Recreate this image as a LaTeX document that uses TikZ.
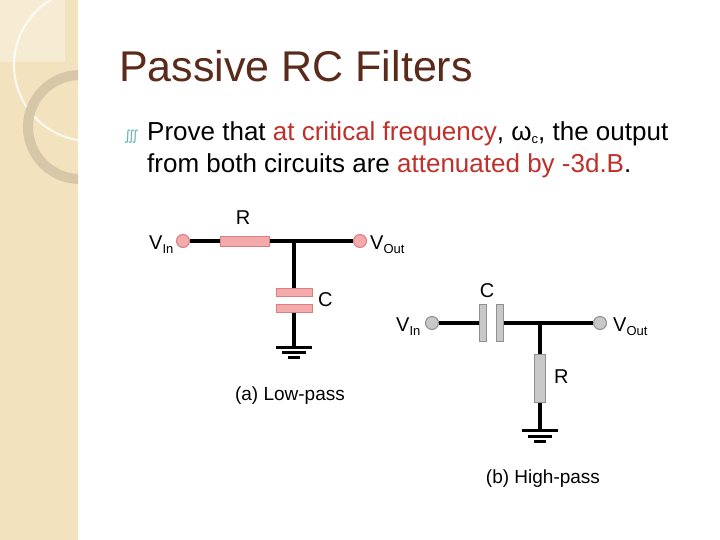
\documentclass[tikz,border=0pt]{standalone}
\usepackage{fontspec}
\setmainfont{Liberation Sans}
\newfontfamily\symf{DejaVu Sans}
\definecolor{beige}{HTML}{F2E2BE}
\definecolor{titlec}{HTML}{5A2A1A}
\definecolor{redt}{HTML}{C0302A}
\definecolor{pinkf}{HTML}{F4AAAA}
\definecolor{pinkd}{HTML}{D88080}
\definecolor{grayf}{HTML}{C8C8C8}
\definecolor{grayd}{HTML}{909090}
\newcommand{\lsub}[1]{\raisebox{-4pt}{\fontsize{13}{13}\selectfont #1}}
\tikzset{
 wire/.style={line width=3.5pt},
 termL/.style={circle,draw=pinkd,fill=pinkf,minimum size=13pt,inner sep=0pt,line width=1pt},
 termH/.style={circle,draw=grayd,fill=grayf,minimum size=13pt,inner sep=0pt,line width=1pt},
 lbl/.style={font=\fontsize{20}{22}\selectfont,inner sep=0pt},
 caption/.style={font=\fontsize{19}{21}\selectfont,anchor=base,inner sep=0pt},
 gnd/.style={line width=3pt},
}
\begin{document}
\begin{tikzpicture}[x=1pt,y=-1pt]
\useasboundingbox (0,0) rectangle (720,540);
\fill[white] (0,0) rectangle (720,540);
\fill[beige] (0,0) rectangle (78,540);
\begin{scope}
\clip (0,0) rectangle (78,540);
\fill[white,opacity=0.35] (0,0) rectangle (65,62);
\draw[white,opacity=0.8,line width=2pt] (90,65) circle (76);
\draw[black!12!beige,line width=10pt] (80,127) circle (52);
\end{scope}
\node[anchor=base west,text=titlec,font=\fontsize{43}{47}\selectfont,inner sep=0pt] at (119,82) {Passive RC Filters};
\node[anchor=base west,text=teal!60,font=\symf\fontsize{14}{14}\selectfont,inner sep=0pt] at (124,141) {\char"222D};
\node[anchor=base west,font=\fontsize{26}{28}\selectfont,inner sep=0pt] at (147,141) {Prove that \textcolor{redt}{at critical frequency}, ω\raisebox{-3pt}{\fontsize{13}{13}\selectfont c}, the output};
\node[anchor=base west,font=\fontsize{26}{28}\selectfont,inner sep=0pt] at (147,173) {from both circuits are \textcolor{redt}{attenuated by -3d.B}.};
% low-pass
\node[termL] (li) at (183,241) {};
\node[termL] (lo) at (360,241) {};
\coordinate (lj) at (294,241);
\node[draw=pinkd,fill=pinkf,line width=1pt,minimum width=49pt,minimum height=10pt,inner sep=0pt] (lr) at (245,241) {};
\draw[wire] (li) -- (lr) (lr) -- (lj) -- (lo);
\node[draw=pinkd,fill=pinkf,line width=1pt,minimum width=36pt,minimum height=8pt,inner sep=0pt] (lc1) at (294,292) {};
\node[draw=pinkd,fill=pinkf,line width=1pt,minimum width=36pt,minimum height=8pt,inner sep=0pt] (lc2) at (294,308) {};
\coordinate (lg) at (294,347);
\draw[wire] (lj) -- (lc1.north) (lc2.south) -- (lg);
\draw[gnd] (276,347) -- (312,347) (282,352) -- (306,352) (288,357) -- (300,357);
\node[lbl,anchor=base west] at (149,249) {V\lsub{In}};
\node[lbl,anchor=base west] at (370,249) {V\lsub{Out}};
\node[lbl,anchor=base] at (243,225) {R};
\node[lbl,anchor=base west] at (318,306) {C};
\node[caption] at (290,400) {(a) Low-pass};
% high-pass
\node[termH] (hi) at (432,323) {};
\node[termH] (ho) at (600,323) {};
\coordinate (hj) at (540,323);
\node[draw=grayd,fill=grayf,line width=1pt,minimum width=7pt,minimum height=37pt,inner sep=0pt] (hc1) at (483,323) {};
\node[draw=grayd,fill=grayf,line width=1pt,minimum width=7pt,minimum height=37pt,inner sep=0pt] (hc2) at (500,323) {};
\draw[wire] (hi) -- (hc1.west) (hc2.east) -- (hj) -- (ho);
\node[draw=grayd,fill=grayf,line width=1pt,minimum width=11pt,minimum height=48pt,inner sep=0pt] (hr) at (540,378) {};
\coordinate (hg) at (540,430);
\draw[wire] (hj) -- (hr.north) (hr.south) -- (hg);
\draw[gnd] (522,430) -- (558,430) (528,436) -- (552,436) (534,441) -- (546,441);
\node[lbl,anchor=base west] at (396,331) {V\lsub{In}};
\node[lbl,anchor=base west] at (613,331) {V\lsub{Out}};
\node[lbl,anchor=base] at (487,297) {C};
\node[lbl,anchor=base west] at (554,383) {R};
\node[caption] at (543,483) {(b) High-pass};
\end{tikzpicture}
\end{document}
